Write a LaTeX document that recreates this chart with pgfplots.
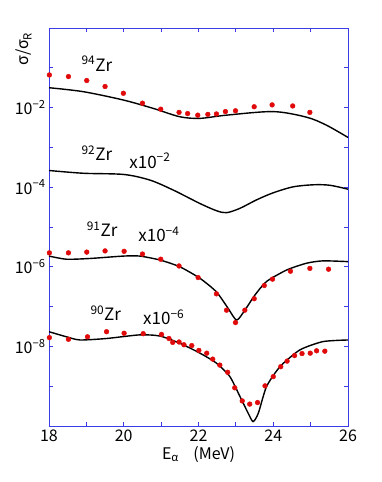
\documentclass[border=0pt]{standalone}
\usepackage{fontspec}
\setmainfont{Noto Sans CJK JP}
\usepackage{pgfplots}
\pgfplotsset{compat=1.18}
\definecolor{AxisBlue}{RGB}{60,60,230}
\definecolor{DotRed}{RGB}{225,10,10}

\begin{document}
\begin{tikzpicture}
\begin{axis}[
  name=ax,
  scale only axis,
  width=299pt, height=398pt,
  xmin=18, xmax=26,
  ymode=log, ymin=1e-10, ymax=1,
  axis line style={AxisBlue, line width=0.8pt},
  tick style={AxisBlue, line width=0.8pt},
  major tick length=4pt, minor tick length=4pt,
  tick align=inside,
  xtick={18,20,22,24,26}, minor xtick={19,21,23,25},
  xticklabels={18,20,22,24,26},
  ytick={1e-8,1e-6,1e-4,1e-2},
  minor ytick={1e-10,1e-9,1e-7,1e-5,1e-3,1e-1,1},
  yticklabels={10\textsuperscript{−8},10\textsuperscript{−6},10\textsuperscript{−4},10\textsuperscript{−2}},
  tick label style={font=\fontsize{16}{16}\selectfont, black},
  xlabel={E\textsubscript{α}\hspace{0.9em}(MeV)},
  xlabel style={font=\fontsize{16}{16}\selectfont, yshift=2pt},
  clip mode=individual,
  label style={black},
]
% 94Zr
\addplot[black, line width=1.4pt, smooth, tension=0.5] coordinates {
  (18.0,3.16e-2) (18.92,2.51e-2) (19.99,1.55e-2) (20.79,9.55e-3)
  (21.5,5.89e-3) (22.04,5.37e-3) (22.75,6.46e-3) (24.0,7.94e-3)
  (24.89,5.75e-3) (25.42,3.63e-3) (26.0,1.78e-3)};
\addplot[only marks, mark=*, mark size=2.4pt, DotRed, mark options={draw=DotRed}] coordinates {
  (18.01,6.61e-2) (18.52,6.03e-2) (19.01,4.79e-2) (19.50,3.39e-2)
  (19.99,2.29e-2) (20.50,1.29e-2) (20.99,9.12e-3) (21.48,7.59e-3)
  (21.71,7.08e-3) (21.98,6.46e-3) (22.25,6.76e-3) (22.48,6.92e-3)
  (22.72,7.94e-3) (22.99,8.32e-3) (23.49,1.05e-2) (23.97,1.17e-2)
  (24.52,1.10e-2) (24.98,7.59e-3)};
% 92Zr x1e-2
\addplot[black, line width=1.4pt, smooth, tension=0.5] coordinates {
  (18.0,2.63e-4) (18.92,2.24e-4) (20.0,2.09e-4) (20.7,1.51e-4)
  (21.32,8.51e-5) (22.04,3.89e-5) (22.48,2.57e-5) (22.75,2.29e-5)
  (23.11,2.95e-5) (23.55,4.79e-5) (24.0,7.24e-5) (24.53,1.02e-4)
  (25.07,1.15e-4) (25.51,1.12e-4) (26.0,8.91e-5)};
% 91Zr x1e-4
\addplot[black, line width=1.4pt, smooth, tension=0.4] coordinates {
  (18.0,1.86e-6) (18.47,1.55e-6) (19.1,1.62e-6) (19.99,1.86e-6)
  (20.43,1.86e-6) (20.97,1.48e-6) (21.5,1.00e-6) (22.04,5.13e-7)
  (22.48,2.34e-7) (22.79,9.12e-8) (23.02,4.57e-8) (23.24,8.13e-8)
  (23.51,1.95e-7) (23.82,4.27e-7) (24.36,8.32e-7) (24.89,1.23e-6)
  (25.33,1.41e-6) (26.0,1.35e-6)};
\addplot[only marks, mark=*, mark size=2.4pt, DotRed, mark options={draw=DotRed}] coordinates {
  (18.01,2.24e-6) (18.52,2.24e-6) (19.01,2.34e-6) (19.50,2.51e-6)
  (20.01,2.45e-6) (20.50,2.09e-6) (20.99,1.55e-6) (21.48,1.05e-6)
  (21.99,5.37e-7) (22.48,2.09e-7) (22.75,8.13e-8) (22.99,3.98e-8)
  (23.24,8.13e-8) (23.49,1.58e-7) (23.76,3.39e-7) (23.98,4.90e-7)
  (24.46,7.76e-7) (24.98,9.12e-7) (25.48,8.71e-7)};
% 90Zr x1e-6
\addplot[black, line width=1.4pt, smooth, tension=0.4] coordinates {
  (18.0,2.34e-8) (18.47,1.74e-8) (18.83,1.45e-8) (19.54,1.58e-8)
  (20.43,1.95e-8) (20.97,1.82e-8) (21.5,1.20e-8) (22.04,6.76e-9)
  (22.48,3.80e-9) (22.84,1.74e-9) (23.11,5.50e-10) (23.33,2.09e-10)
  (23.46,1.29e-10) (23.6,2.09e-10) (23.82,9.77e-10) (24.18,3.09e-9)
  (24.71,8.13e-9) (25.33,1.32e-8) (26.0,1.45e-8)};
\addplot[only marks, mark=*, mark size=2.4pt, DotRed, mark options={draw=DotRed}] coordinates {
  (18.01,1.66e-8) (18.52,1.51e-8) (19.03,1.74e-8) (19.54,2.34e-8)
  (20.01,2.14e-8) (20.52,2.09e-8) (21.01,2.00e-8) (21.21,1.58e-8)
  (21.31,1.26e-8) (21.48,1.29e-8) (21.61,1.10e-8) (21.82,1.05e-8)
  (22.01,7.94e-9) (22.22,6.76e-9) (22.38,4.79e-9) (22.57,3.39e-9)
  (22.78,2.24e-9) (22.97,9.12e-10) (23.17,4.27e-10) (23.37,3.55e-10)
  (23.58,3.89e-10) (23.78,1.02e-9) (24.0,1.74e-9) (24.2,3.09e-9)
  (24.37,4.27e-9) (24.57,5.89e-9) (24.77,6.61e-9) (24.99,6.76e-9)
  (25.16,7.76e-9) (25.38,7.59e-9)};
% labels
\begin{scope}[every node/.style={font=\fontsize{17}{17}\selectfont, inner sep=0pt}]
\node at (axis cs:19.28,1.26e-1) {\textsuperscript{94}Zr};
\node at (axis cs:19.28,7.2e-4) {\textsuperscript{92}Zr};
\node at (axis cs:20.7,4.6e-4) {x10\textsuperscript{−2}};
\node at (axis cs:19.42,8.9e-6) {\textsuperscript{91}Zr};
\node at (axis cs:20.94,6.6e-6) {x10\textsuperscript{−4}};
\node at (axis cs:19.52,6.9e-8) {\textsuperscript{90}Zr};
\node at (axis cs:21.07,5.5e-8) {x10\textsuperscript{−6}};
\end{scope}
\end{axis}
\node[rotate=90, font=\fontsize{16}{16}\selectfont] at ([xshift=-25pt,yshift=-21pt]ax.north west) {σ/σ\textsubscript{R}};
\path (ax.south west) ++(-49pt,-56pt) rectangle ++(382pt,482pt);
\end{tikzpicture}
\end{document}
